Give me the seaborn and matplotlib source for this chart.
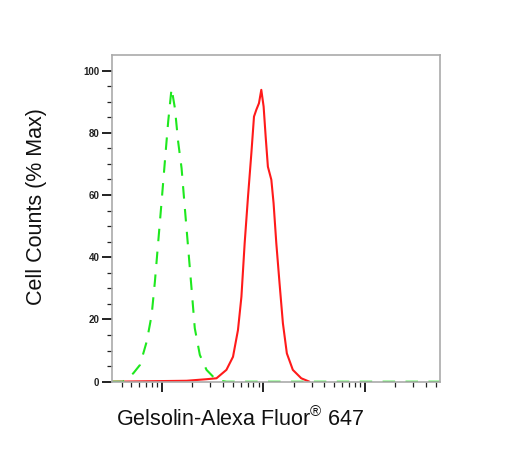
import numpy as np
import pandas as pd
import matplotlib
matplotlib.use("Agg")
import matplotlib.pyplot as plt
from matplotlib.ticker import FixedLocator, LogLocator, NullFormatter
import seaborn as sns

# ---- data (fluorescence intensity, % of max) ----
isotype_x = [322, 414, 522, 608, 708, 792, 853, 920, 993, 1069, 1153, 1245,
             1343, 1445, 1563, 1683, 1816, 1959, 2109, 2366, 2754, 3451, 4325,
             10000, 100000, 546000]
isotype_y = [0, 0, 2.7, 5.4, 12.9, 21.4, 32.2, 45.0, 57.9, 70.7, 83.6, 94.3,
             87.9, 77.2, 68.6, 55.8, 42.9, 30.0, 17.2, 8.6, 3.8, 0.5, 0,
             0, 0, 0]

gelsolin_x = [322, 1750, 2754, 3451, 4325, 5023, 5623, 6081, 6546, 7063, 7621,
              8091, 8531, 9057, 9550, 10069, 10544, 11092, 11995, 12619, 13428,
              14454, 15596, 17061, 19543, 23659, 28510]
gelsolin_y = [0, 0.3, 0.8, 1.1, 3.8, 8.0, 16.6, 27.3, 44.5, 59.5, 73.4,
              85.2, 87.4, 89.5, 93.8, 88.4, 78.8, 69.1, 64.9, 57.4, 44.5,
              31.6, 18.8, 9.1, 3.8, 1.1, 0]

y_major = [0, 20, 40, 60, 80, 100]
y_labels = ["0", "20", "40", "60", "80", "100"]
y_minor = [5, 10, 15, 25, 30, 35, 45, 50, 55, 65, 70, 75, 85, 90, 95]

df = pd.concat([
    pd.DataFrame({"intensity": gelsolin_x, "pct": gelsolin_y, "sample": "gelsolin"}),
    pd.DataFrame({"intensity": isotype_x, "pct": isotype_y, "sample": "isotype"}),
], ignore_index=True)

sns.set_theme(style="white")
plt.rcParams["font.family"] = ["Liberation Sans", "DejaVu Sans"]
plt.rcParams["mathtext.fontset"] = "custom"
plt.rcParams["mathtext.rm"] = "Liberation Sans"
plt.rcParams["mathtext.it"] = "Liberation Sans:italic"
plt.rcParams["mathtext.bf"] = "Liberation Sans:bold"
plt.rcParams["mathtext.default"] = "regular"

fig = plt.figure(figsize=(5.31, 4.5), dpi=100)
ax = fig.add_axes([112 / 531, 1 - 381.7 / 450, (439.5 - 112) / 531, (381.7 - 55) / 450])

sns.lineplot(data=df, x="intensity", y="pct", hue="sample", style="sample",
             hue_order=["gelsolin", "isotype"], style_order=["gelsolin", "isotype"],
             palette={"gelsolin": "#ff1a1a", "isotype": "#1ee81e"},
             dashes={"gelsolin": "", "isotype": (6, 5)},
             sort=False, estimator=None, linewidth=1.5, legend=False, ax=ax)

ax.set_xscale("log")
ax.set_xlim(322, 546000)
ax.set_ylim(0, 105)

ax.xaxis.set_major_locator(LogLocator(base=10))
ax.xaxis.set_minor_locator(LogLocator(base=10, subs=np.arange(2, 10)))
ax.xaxis.set_major_formatter(NullFormatter())
ax.xaxis.set_minor_formatter(NullFormatter())

ax.yaxis.set_major_locator(FixedLocator(y_major))
ax.set_yticklabels(y_labels)
ax.yaxis.set_minor_locator(FixedLocator(y_minor))

ax.tick_params(which="major", direction="out", length=7, width=1.4, color="#222222",
               labelsize=7, pad=2, left=True, bottom=True)
ax.tick_params(which="minor", direction="out", length=3.5, width=0.9, color="#222222",
               left=True, bottom=True)
for lab in ax.get_yticklabels():
    lab.set_fontweight("bold")
    lab.set_color("#222222")

for sp in ax.spines.values():
    sp.set_visible(True)
    sp.set_color("#aaaaaa")
    sp.set_linewidth(1.2)

ax.set_xlabel("")
ax.set_ylabel("")
fig.text(37 / 531, 1 - 206.7 / 450, "Cell Counts (% Max)", rotation=90,
         ha="center", va="center", fontsize=15.5, color="#111111")
fig.text(240.5 / 531, 1 - 419 / 450, "Gelsolin-Alexa Fluor$^{®}$ 647",
         ha="center", va="center", fontsize=15.5, color="#111111")

fig.savefig("out.png", dpi=100)
